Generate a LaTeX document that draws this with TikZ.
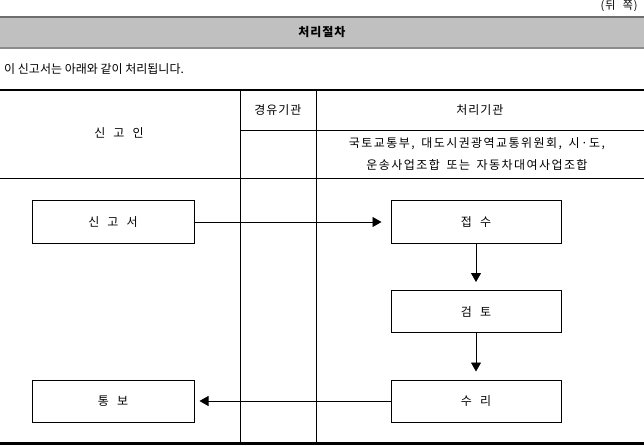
\documentclass[tikz,border=0pt]{standalone}
\usepackage{fontspec}
\setmainfont{Noto Sans CJK KR}
\newfontfamily\widefont[LetterSpace=8,WordSpace=2.2]{Noto Sans CJK KR}
\newfontfamily\listfont[LetterSpace=12,WordSpace=1.6]{Noto Sans CJK KR}
\usetikzlibrary{arrows.meta}
\definecolor{bandgray}{HTML}{C0C0C0}
\definecolor{rulegray}{HTML}{6E6E6E}
\begin{document}
\begin{tikzpicture}[x=1pt, y=-1pt,
		font=\fontsize{12}{14}\selectfont,
		procbox/.style={draw, line width=1pt, minimum width=162pt, minimum height=42pt, font=\fontsize{12}{14}\widefont},
		handlerbox/.style={procbox, minimum width=170pt},
		flow/.style={line width=0.8pt, -{Triangle[length=9pt, width=10pt]}},
		rule/.style={line width=0.9pt},
		heavyrule/.style={line width=2.3pt}
		]
	\useasboundingbox (0,0) rectangle (644,446);
	\fill[bandgray] (0,17) rectangle (644,48);
	\draw[rulegray, line width=2.4pt] (0,17) -- (644,17);
	\draw[rulegray!80, line width=1.6pt] (0,48) -- (644,48);
	\node[anchor=east, font=\fontsize{11}{13}\widefont] (page) at (641,6) {(뒤 쪽)};
	\node[font=\fontsize{12}{14}\bfseries\widefont] (title) at (322,32) {처리절차};
	\node[anchor=west, inner sep=0pt] (intro) at (4,69) {이 신고서는 아래와 같이 처리됩니다.};
	\draw[heavyrule] (0,90) -- (644,90);
	\draw[rule] (240,90) -- (240,443);
	\draw[rule] (316,90) -- (316,443);
	\draw[rule] (240,130) -- (644,130);
	\draw[rule] (0,178) -- (644,178);
	\draw[heavyrule] (0,443.5) -- (644,443.5);
	\node[font=\fontsize{12}{14}\widefont] (applicant) at (119,133) {신 고 인};
	\node[font=\fontsize{12}{14}\widefont] (via) at (278,110) {경유기관};
	\node[font=\fontsize{12}{14}\widefont] (handler) at (480,110) {처리기관};
	\node[font=\fontsize{12}{22}\listfont, align=center] (agencies) at (477,154)
		{국토교통부, 대도시권광역교통위원회, 시·도,\\운송사업조합 또는 자동차대여사업조합};
	\node[procbox] (report) at (113,222) {신 고 서};
	\node[handlerbox] (receive) at (476,222) {접 수};
	\node[handlerbox] (review) at (476,311.5) {검 토};
	\node[handlerbox] (accept) at (476,401) {수 리};
	\node[procbox] (notify) at (113,401) {통 보};
	\draw[flow, shorten >=9pt] (report) -- (receive);
	\draw[flow, shorten >=8pt] (receive) -- (review);
	\draw[flow, shorten >=8pt] (review) -- (accept);
	\draw[flow, shorten >=5pt] (accept) -- (notify);
\end{tikzpicture}
\end{document}
